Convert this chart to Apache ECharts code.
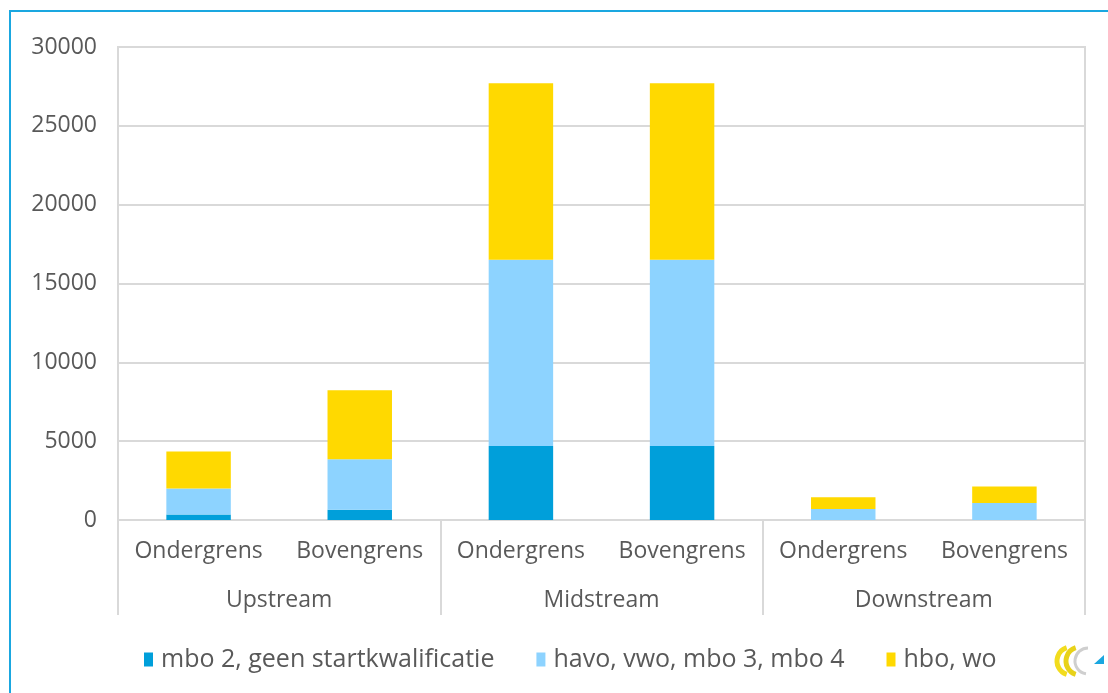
<!DOCTYPE html>
<html>
<head>
<meta charset="utf-8">
<style>
  html, body { margin: 0; padding: 0; background: #fff; }
  #main { width: 1108px; height: 693px; }
</style>
<script src="https://cdn.jsdelivr.net/npm/echarts@6/dist/echarts.min.js"></script>
</head>
<body>
<div id="main"></div>
<script>
const myChart = echarts.init(document.getElementById('main'));

// categories (two levels)
const subCategories = ['Ondergrens', 'Bovengrens', 'Ondergrens', 'Bovengrens', 'Ondergrens', 'Bovengrens'];
const groups = ['Upstream', 'Midstream', 'Downstream'];

// series values
const seriesNames = ['mbo 2, geen startkwalificatie', 'havo, vwo, mbo 3, mbo 4', 'hbo, wo'];
const mbo2Data = [350, 650, 4700, 4700, 0, 0];
const havoData = [1650, 3200, 11800, 11800, 700, 1080];
const hboData = [2350, 4380, 11200, 11200, 750, 1050];

const colors = ['#009FDA', '#8DD3FF', '#FFD900'];
const textColor = '#595959';
const lineColor = '#D9D9D9';
const fontFamily = 'Open Sans';

const option = {
  animation: false,
  textStyle: { fontFamily: fontFamily },
  grid: {
    left: 118,
    right: 23,
    top: 47,
    bottom: 173,
    show: true,
    borderColor: lineColor,
    borderWidth: 2,
  },
  legend: {
    top: 642,
    left: 139,
    icon: 'rect',
    itemWidth: 9,
    itemHeight: 14,
    itemGap: 42,
    textStyle: { color: textColor, fontSize: 25, fontFamily: fontFamily, padding: [0, 0, 0, 3] },
    data: seriesNames,
  },
  xAxis: [
    {
      type: 'category',
      data: subCategories,
      axisLine: { show: true, lineStyle: { color: lineColor, width: 2 } },
      axisTick: { show: false },
      axisLabel: { color: textColor, fontSize: 23, margin: 20, interval: 0 },
    },
    {
      type: 'category',
      position: 'bottom',
      data: groups,
      axisLine: { show: false },
      axisTick: { show: true, length: 95, lineStyle: { color: lineColor, width: 2 } },
      axisLabel: { color: textColor, fontSize: 23, margin: 69, interval: 0 },
    },
  ],
  yAxis: {
    type: 'value',
    min: 0,
    max: 30000,
    interval: 5000,
    axisLine: { show: false },
    axisTick: { show: false },
    axisLabel: { color: textColor, fontSize: 23, margin: 21, formatter: (v) => String(v) },
    splitLine: { lineStyle: { color: lineColor, width: 2 } },
  },
  series: [
    { name: seriesNames[0], data: mbo2Data, color: colors[0] },
    { name: seriesNames[1], data: havoData, color: colors[1] },
    { name: seriesNames[2], data: hboData, color: colors[2] },
  ].map((s) => ({
    ...s,
    type: 'bar',
    stack: 'total',
    xAxisIndex: 0,
    barCategoryGap: '60%',
  })),
  graphic: [
    // outer frame (top and left)
    {
      type: 'polyline',
      shape: { points: [[10, 700], [10, 11], [1120, 11]] },
      style: { stroke: '#1AA7E0', lineWidth: 2, fill: null },
    },
    // small logo bottom right
    {
      type: 'group',
      x: 1058,
      y: 643,
      children: [
        {
          type: 'arc',
          shape: { cx: 13, cy: 18, r: 14, startAngle: Math.PI * 0.6, endAngle: Math.PI * 1.4 },
          style: { stroke: '#F2DC1E', lineWidth: 5, fill: null },
        },
        {
          type: 'arc',
          shape: { cx: 22, cy: 18, r: 14, startAngle: Math.PI * 0.6, endAngle: Math.PI * 1.4 },
          style: { stroke: '#E8D21A', lineWidth: 5, fill: null },
        },
        {
          type: 'arc',
          shape: { cx: 30, cy: 18, r: 13, startAngle: Math.PI * 0.55, endAngle: Math.PI * 1.5 },
          style: { stroke: '#CFCFCF', lineWidth: 3, fill: null },
        },
        {
          type: 'polygon',
          shape: { points: [[36, 21], [46, 12], [46, 21]] },
          style: { fill: '#1AA7E0' },
        },
      ],
    },
  ],
};

myChart.setOption(option);
</script>
</body>
</html>
